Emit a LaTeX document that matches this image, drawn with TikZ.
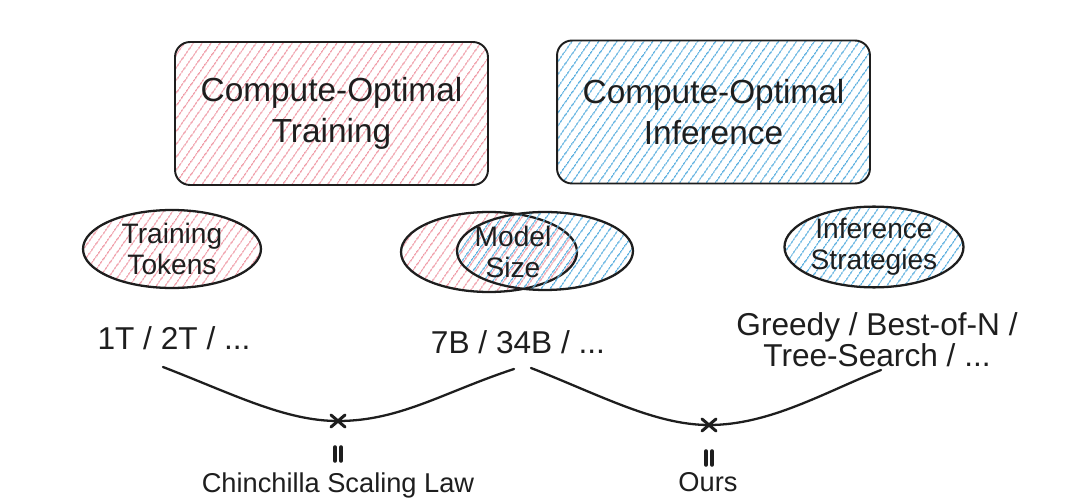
\documentclass[tikz,border=0pt]{standalone}
\usepackage{fontspec}
\setmainfont{Liberation Sans}
\usetikzlibrary{shapes.geometric,patterns.meta}
\definecolor{ink}{HTML}{1E1E1E}
\definecolor{pinkh}{HTML}{F09AA6}
\definecolor{blueh}{HTML}{58AEDF}
\begin{document}
\begin{tikzpicture}[x=0.02cm,y=-0.02cm,
  pinkfill/.style={pattern={Lines[angle=55,distance=4pt,line width=0.65pt]},pattern color=pinkh},
  bluefill/.style={pattern={Lines[angle=55,distance=4pt,line width=0.65pt]},pattern color=blueh},
  bigbox/.style={draw=ink,line width=1.1pt,rounded corners=0.3cm,minimum width=6.26cm,minimum height=2.86cm,align=center,font=\fontsize{19}{23}\selectfont,text=ink},
  oval/.style={ellipse,draw=ink,line width=1.3pt,inner sep=0pt,align=center,font=\fontsize{16}{17.6}\selectfont,text=ink},
  lbl/.style={align=center,inner sep=0pt,font=\fontsize{16}{17.6}\selectfont,text=ink},
  vals/.style={align=center,inner sep=0pt,font=\fontsize{18}{17.5}\selectfont,text=ink},
  res/.style={inner sep=0pt,font=\fontsize{15.5}{18}\selectfont,text=ink},
  curve/.style={draw=ink,line width=1.3pt,line cap=round},
  tick/.style={draw=ink,line width=1.7pt,line cap=round}
]
\useasboundingbox (0,0) rectangle (1080,503);
\fill[white] (0,0) rectangle (1080,503);

% top boxes
\node[bigbox,pinkfill] (train) at (331.5,113.5) {Compute-Optimal\\Training};
\node[bigbox,bluefill] (infer) at (713.5,112) {Compute-Optimal\\Inference};

% ellipses
\node[oval,pinkfill,minimum width=3.56cm,minimum height=1.56cm] (tok) at (172,249) {Training\\Tokens};
\node[oval,pinkfill,minimum width=3.52cm,minimum height=1.6cm] (msa) at (489,252) {};
\node[oval,bluefill,minimum width=3.52cm,minimum height=1.56cm] (msb) at (545,251) {};
\node[lbl] (mst) at (513,252) {Model\\Size};
\node[oval,bluefill,minimum width=3.56cm,minimum height=1.54cm] (strat) at (874,247) {Inference\\Strategies};

% values
\node[vals] (v1) at (174,338) {1T / 2T / ...};
\node[vals] (v2) at (518,342) {7B / 34B / ...};
\node[vals] (v3) at (877,340) {Greedy / Best-of-N /\\Tree-Search / ...};

% curves
\coordinate (a1) at (163,367);
\coordinate (x1) at (338,421);
\coordinate (b1) at (514,369);
\coordinate (a2) at (531,368);
\coordinate (x2) at (709,425);
\coordinate (b2) at (881,370);
\draw[curve] (a1) .. controls (233,394) and (285,421) .. (x1)
             .. controls (400,421) and (444,392) .. (b1);
\draw[curve] (a2) .. controls (600,395) and (655,425) .. (x2)
             .. controls (770,425) and (825,392) .. (b2);

% cross marks and vertical equals signs
\foreach \p in {x1,x2}{
  \draw[tick] ([shift={(-7,-6)}]\p) -- ([shift={(7,6)}]\p);
  \draw[tick] ([shift={(-7,6)}]\p) -- ([shift={(7,-6)}]\p);
  \draw[tick,line width=2pt] ([shift={(-3,26)}]\p) -- ([shift={(-3,40)}]\p);
  \draw[tick,line width=2pt] ([shift={(3,26)}]\p) -- ([shift={(3,40)}]\p);
}

% results
\node[res] (r1) at (338,472) [anchor=north] {Chinchilla Scaling Law};
\node[res] (r2) at (708,472) [anchor=north] {Ours};
\end{tikzpicture}
\end{document}
